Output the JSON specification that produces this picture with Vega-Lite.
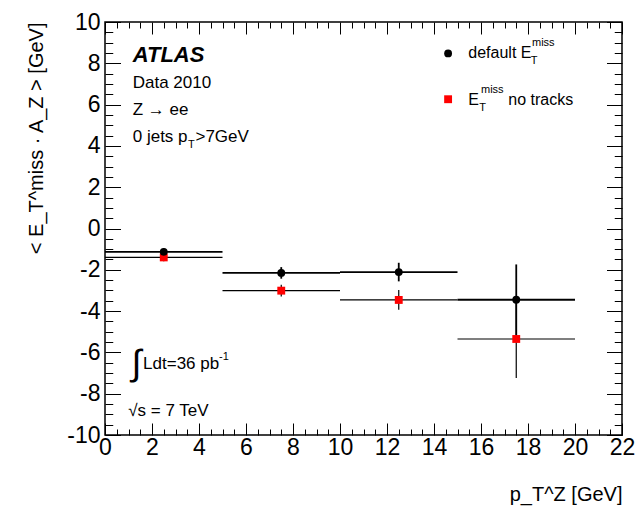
{
  "$schema": "https://vega.github.io/schema/vega-lite/v6.json",
  "width": 517,
  "height": 413,
  "autosize": {"type": "none"},
  "padding": {"left": 105, "top": 22, "right": 16, "bottom": 73},
  "background": "white",
  "config": {
    "view": {"stroke": "black", "strokeWidth": 1.5},
    "font": "Liberation Sans",
    "text": {"font": "Liberation Sans", "fill": "black", "align": "left", "baseline": "middle", "fontWeight": "normal"}
  },
  "datasets": {
    "points": [
      {"series": "notracks", "x": 2.5, "xlo": 0, "xhi": 5, "y": -1.40, "ylo": -1.58, "yhi": -1.22},
      {"series": "notracks", "x": 7.5, "xlo": 5, "xhi": 10, "y": -3.01, "ylo": -3.29, "yhi": -2.73},
      {"series": "notracks", "x": 12.5, "xlo": 10, "xhi": 15, "y": -3.46, "ylo": -3.94, "yhi": -2.98},
      {"series": "notracks", "x": 17.5, "xlo": 15, "xhi": 20, "y": -5.35, "ylo": -7.24, "yhi": -3.46},
      {"series": "default", "x": 2.5, "xlo": 0, "xhi": 5, "y": -1.13, "ylo": -1.30, "yhi": -0.96},
      {"series": "default", "x": 7.5, "xlo": 5, "xhi": 10, "y": -2.15, "ylo": -2.43, "yhi": -1.87},
      {"series": "default", "x": 12.5, "xlo": 10, "xhi": 15, "y": -2.11, "ylo": -2.56, "yhi": -1.66},
      {"series": "default", "x": 17.5, "xlo": 15, "xhi": 20, "y": -3.45, "ylo": -5.16, "yhi": -1.74}
    ],
    "one": [{}]
  },
  "data": {"name": "one"},
  "layer": [
    {
      "data": {"name": "points"},
      "mark": {"type": "rule", "color": "black"},
      "encoding": {
        "x": {"field": "xlo", "type": "quantitative", "scale": {"domain": [0, 22], "nice": false, "zero": false},
          "axis": {"orient": "bottom", "values": [0,0.5,1,1.5,2,2.5,3,3.5,4,4.5,5,5.5,6,6.5,7,7.5,8,8.5,9,9.5,10,10.5,11,11.5,12,12.5,13,13.5,14,14.5,15,15.5,16,16.5,17,17.5,18,18.5,19,19.5,20,20.5,21,21.5,22],
            "labelExpr": "datum.value % 2 === 0 ? '' + datum.value : ''",
            "tickSize": {"condition": {"test": "datum.value % 2 === 0", "value": -12}, "value": -6},
            "labelOverlap": false, "labelFlush": false, "domain": false, "grid": false,
            "labelFontSize": 23, "labelPadding": 13, "labelColor": "black", "labelFont": "Liberation Sans",
            "tickColor": "black", "tickWidth": 1,
            "title": "p_T^Z [GeV]", "titleFont": "Liberation Sans", "titleFontSize": 20, "titleFontWeight": "normal", "titleColor": "black",
            "titleAnchor": "end", "titleAlign": "right", "titleBaseline": "alphabetic", "titleX": 517, "titleY": 65}},
        "x2": {"field": "xhi"},
        "y": {"field": "y", "type": "quantitative", "scale": {"domain": [-10, 10], "nice": false, "zero": false},
          "axis": {"orient": "left", "values": [-10,-9.5,-9,-8.5,-8,-7.5,-7,-6.5,-6,-5.5,-5,-4.5,-4,-3.5,-3,-2.5,-2,-1.5,-1,-0.5,0,0.5,1,1.5,2,2.5,3,3.5,4,4.5,5,5.5,6,6.5,7,7.5,8,8.5,9,9.5,10],
            "labelExpr": "datum.value % 2 === 0 ? '' + datum.value : ''",
            "tickSize": {"condition": {"test": "datum.value % 2 === 0", "value": -15.5}, "value": -7.75},
            "labelOverlap": false, "labelFlush": false, "domain": false, "grid": false,
            "labelFontSize": 23, "labelPadding": 20.5, "labelColor": "black", "labelFont": "Liberation Sans",
            "tickColor": "black", "tickWidth": 1,
            "title": "< E_T^miss · A_Z > [GeV]", "titleFont": "Liberation Sans", "titleFontSize": 20, "titleFontWeight": "normal", "titleColor": "black",
            "titleAngle": 270, "titleAnchor": "end", "titleAlign": "right", "titleBaseline": "alphabetic", "titleX": -63, "titleY": 0}},
        "strokeWidth": {"field": "series", "type": "nominal", "scale": {"domain": ["default", "notracks"], "range": [1.8, 1.2]}, "legend": null}
      }
    },
    {
      "data": {"name": "points"},
      "mark": {"type": "rule", "color": "black"},
      "encoding": {
        "x": {"field": "x", "type": "quantitative", "axis": null},
        "y": {"field": "ylo", "type": "quantitative", "axis": null},
        "y2": {"field": "yhi"},
        "strokeWidth": {"field": "series", "type": "nominal", "scale": {"domain": ["default", "notracks"], "range": [1.8, 1.2]}, "legend": null}
      }
    },
    {
      "data": {"name": "points"},
      "mark": {"type": "point", "filled": true, "opacity": 1, "size": 62, "strokeWidth": 0},
      "encoding": {
        "x": {"field": "x", "type": "quantitative",
          "axis": {"orient": "top", "values": [0,0.5,1,1.5,2,2.5,3,3.5,4,4.5,5,5.5,6,6.5,7,7.5,8,8.5,9,9.5,10,10.5,11,11.5,12,12.5,13,13.5,14,14.5,15,15.5,16,16.5,17,17.5,18,18.5,19,19.5,20,20.5,21,21.5,22],
            "labels": false, "tickSize": {"condition": {"test": "datum.value % 2 === 0", "value": -12}, "value": -6},
            "domain": false, "grid": false, "title": null, "tickColor": "black", "tickWidth": 1}},
        "y": {"field": "y", "type": "quantitative",
          "axis": {"orient": "right", "values": [-10,-9.5,-9,-8.5,-8,-7.5,-7,-6.5,-6,-5.5,-5,-4.5,-4,-3.5,-3,-2.5,-2,-1.5,-1,-0.5,0,0.5,1,1.5,2,2.5,3,3.5,4,4.5,5,5.5,6,6.5,7,7.5,8,8.5,9,9.5,10],
            "labels": false, "tickSize": {"condition": {"test": "datum.value % 2 === 0", "value": -15.5}, "value": -7.75},
            "domain": false, "grid": false, "title": null, "tickColor": "black", "tickWidth": 1}},
        "shape": {"field": "series", "type": "nominal", "scale": {"domain": ["default", "notracks"], "range": ["circle", "square"]}, "legend": null},
        "color": {"field": "series", "type": "nominal", "scale": {"domain": ["default", "notracks"], "range": ["#000000", "#ff0000"]}, "legend": null}
      }
    },
    {
      "mark": {"type": "point", "filled": true, "opacity": 1, "size": 62, "strokeWidth": 0, "shape": "circle", "color": "#000000"},
      "encoding": {"x": {"datum": 14.6, "type": "quantitative", "axis": null}, "y": {"datum": 8.48, "type": "quantitative", "axis": null}}
    },
    {
      "mark": {"type": "point", "filled": true, "opacity": 1, "size": 62, "strokeWidth": 0, "shape": "square", "color": "#ff0000"},
      "encoding": {"x": {"datum": 14.6, "type": "quantitative", "axis": null}, "y": {"datum": 6.26, "type": "quantitative", "axis": null}}
    },
    {"mark": {"type": "text", "text": "ATLAS", "fontSize": 22, "fontWeight": "bold", "fontStyle": "italic"},
     "encoding": {"x": {"datum": 1.18, "type": "quantitative", "axis": null}, "y": {"datum": 8.40, "type": "quantitative", "axis": null}}},
    {"mark": {"type": "text", "text": "Data 2010", "fontSize": 17},
     "encoding": {"x": {"datum": 1.18, "type": "quantitative", "axis": null}, "y": {"datum": 7.03, "type": "quantitative", "axis": null}}},
    {"mark": {"type": "text", "text": "Z → ee", "fontSize": 17},
     "encoding": {"x": {"datum": 1.18, "type": "quantitative", "axis": null}, "y": {"datum": 5.74, "type": "quantitative", "axis": null}}},
    {"mark": {"type": "text", "text": "0 jets p", "fontSize": 17},
     "encoding": {"x": {"datum": 1.18, "type": "quantitative", "axis": null}, "y": {"datum": 4.45, "type": "quantitative", "axis": null}}},
    {"mark": {"type": "text", "text": "T", "fontSize": 11},
     "encoding": {"x": {"datum": 3.53, "type": "quantitative", "axis": null}, "y": {"datum": 4.05, "type": "quantitative", "axis": null}}},
    {"mark": {"type": "text", "text": ">7GeV", "fontSize": 17},
     "encoding": {"x": {"datum": 3.85, "type": "quantitative", "axis": null}, "y": {"datum": 4.45, "type": "quantitative", "axis": null}}},
    {"mark": {"type": "text", "text": "default E", "fontSize": 16},
     "encoding": {"x": {"datum": 15.46, "type": "quantitative", "axis": null}, "y": {"datum": 8.48, "type": "quantitative", "axis": null}}},
    {"mark": {"type": "text", "text": "T", "fontSize": 11},
     "encoding": {"x": {"datum": 18.12, "type": "quantitative", "axis": null}, "y": {"datum": 8.1, "type": "quantitative", "axis": null}}},
    {"mark": {"type": "text", "text": "miss", "fontSize": 11},
     "encoding": {"x": {"datum": 18.17, "type": "quantitative", "axis": null}, "y": {"datum": 8.97, "type": "quantitative", "axis": null}}},
    {"mark": {"type": "text", "text": "E", "fontSize": 16},
     "encoding": {"x": {"datum": 15.46, "type": "quantitative", "axis": null}, "y": {"datum": 6.22, "type": "quantitative", "axis": null}}},
    {"mark": {"type": "text", "text": "T", "fontSize": 11},
     "encoding": {"x": {"datum": 15.93, "type": "quantitative", "axis": null}, "y": {"datum": 5.82, "type": "quantitative", "axis": null}}},
    {"mark": {"type": "text", "text": "miss", "fontSize": 11},
     "encoding": {"x": {"datum": 16.0, "type": "quantitative", "axis": null}, "y": {"datum": 6.72, "type": "quantitative", "axis": null}}},
    {"mark": {"type": "text", "text": "no tracks", "fontSize": 16},
     "encoding": {"x": {"datum": 17.16, "type": "quantitative", "axis": null}, "y": {"datum": 6.22, "type": "quantitative", "axis": null}}},
    {"mark": {"type": "text", "text": "∫", "fontSize": 36, "align": "center"},
     "encoding": {"x": {"datum": 1.35, "type": "quantitative", "axis": null}, "y": {"datum": -6.54, "type": "quantitative", "axis": null}}},
    {"mark": {"type": "text", "text": "Ldt=36 pb", "fontSize": 17},
     "encoding": {"x": {"datum": 1.62, "type": "quantitative", "axis": null}, "y": {"datum": -6.54, "type": "quantitative", "axis": null}}},
    {"mark": {"type": "text", "text": "-1", "fontSize": 11},
     "encoding": {"x": {"datum": 4.85, "type": "quantitative", "axis": null}, "y": {"datum": -6.22, "type": "quantitative", "axis": null}}},
    {"mark": {"type": "text", "text": "√s = 7 TeV", "fontSize": 17},
     "encoding": {"x": {"datum": 0.99, "type": "quantitative", "axis": null}, "y": {"datum": -8.86, "type": "quantitative", "axis": null}}}
  ],
  "resolve": {"axis": {"x": "independent", "y": "independent"}}
}
